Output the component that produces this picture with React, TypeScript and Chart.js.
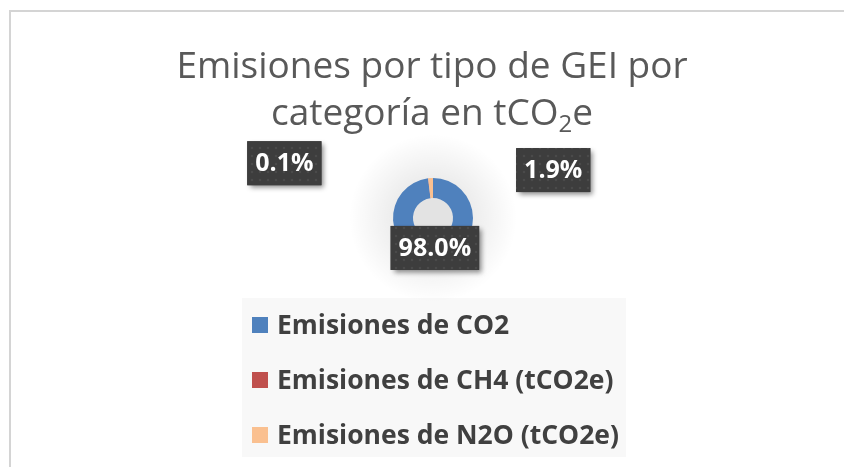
import React, { useEffect, useRef } from "react";
import { Chart, registerables } from "chart.js";

Chart.register(...registerables);

const categories = ["Emisiones de CO2", "Emisiones de CH4 (tCO2e)", "Emisiones de N2O (tCO2e)"];
const shares = [98.0, 0.1, 1.9];
const colors = ["#4f81bd", "#c0504d", "#fac090"];
const titleLine1 = "Emisiones por tipo de GEI por";
const titleLine2 = ["categoría en tCO", "2", "e"];
// label offsets from each slice's centroid (user-dragged data labels)
const labelOffsets: [number, number][] = [[0, 0], [-145, -25], [122, -18]];

const FONT = "'Open Sans', sans-serif";

function makePattern(ctx: CanvasRenderingContext2D) {
  const c = document.createElement("canvas");
  c.width = 8;
  c.height = 8;
  const p = c.getContext("2d")!;
  p.fillStyle = "#3d3d3d";
  p.fillRect(0, 0, 8, 8);
  p.fillStyle = "#4a4a4a";
  p.beginPath();
  p.arc(4, 4, 1.3, 0, Math.PI * 2);
  p.fill();
  return ctx.createPattern(c, "repeat")!;
}

const decorPlugin = {
  id: "decor",
  beforeDraw(chart: any) {
    const ctx = chart.ctx as CanvasRenderingContext2D;
    const W = chart.width;
    const H = chart.height;
    ctx.save();
    ctx.fillStyle = "#ffffff";
    ctx.fillRect(0, 0, W, H);
    // frame
    ctx.strokeStyle = "#d4d4d4";
    ctx.lineWidth = 2;
    ctx.strokeRect(10, 11, W + 20, H + 20);
    // title
    ctx.fillStyle = "#595959";
    ctx.textAlign = "center";
    ctx.textBaseline = "alphabetic";
    const big = `37px ${FONT}`;
    const small = `24px ${FONT}`;
    ctx.font = big;
    ctx.fillText(titleLine1, 432, 78);
    const [a, sub, b] = titleLine2;
    const wa = ctx.measureText(a).width;
    const wb = ctx.measureText(b).width;
    ctx.font = small;
    const ws = ctx.measureText(sub).width;
    const total = wa + ws + wb;
    let x = 432 - total / 2;
    ctx.textAlign = "left";
    ctx.font = big;
    ctx.fillText(a, x, 125);
    x += wa;
    ctx.font = small;
    ctx.fillText(sub, x, 132);
    x += ws;
    ctx.font = big;
    ctx.fillText(b, x, 125);
    // legend
    ctx.fillStyle = "#f8f8f8";
    ctx.fillRect(242, 298, 384, 159);
    const labels = chart.data.labels as string[];
    const bg = chart.data.datasets[0].backgroundColor as string[];
    ctx.font = `bold 26.5px ${FONT}`;
    ctx.textBaseline = "middle";
    labels.forEach((lab, i) => {
      const cy = 325 + i * 55;
      ctx.fillStyle = bg[i];
      ctx.fillRect(252, cy - 8, 16, 16);
      ctx.fillStyle = "#404040";
      ctx.fillText(lab, 277, cy + 1);
    });
    // glow behind doughnut
    const meta = chart.getDatasetMeta(0);
    const arc = meta.data[0];
    if (arc) {
      const { x: cx, y: cy, outerRadius, innerRadius } = arc.getProps(["x", "y", "outerRadius", "innerRadius"], true);
      const g = ctx.createRadialGradient(cx, cy, outerRadius * 0.9, cx, cy, outerRadius * 2.1);
      g.addColorStop(0, "rgba(0,0,0,0.08)");
      g.addColorStop(1, "rgba(0,0,0,0)");
      ctx.fillStyle = g;
      ctx.beginPath();
      ctx.arc(cx, cy, outerRadius * 2.1, 0, Math.PI * 2);
      ctx.fill();
      ctx.fillStyle = "#e3e3e3";
      ctx.beginPath();
      ctx.arc(cx, cy, innerRadius, 0, Math.PI * 2);
      ctx.fill();
    }
    ctx.restore();
  },
  afterDatasetsDraw(chart: any) {
    const ctx = chart.ctx as CanvasRenderingContext2D;
    const meta = chart.getDatasetMeta(0);
    const data = chart.data.datasets[0].data as number[];
    const pattern = makePattern(ctx);
    ctx.save();
    ctx.font = `bold 25px ${FONT}`;
    meta.data.forEach((el: any, i: number) => {
      const pos = el.tooltipPosition(true);
      const [dx, dy] = labelOffsets[i];
      const cx = pos.x + dx;
      const cy = pos.y + dy;
      const txt = data[i].toFixed(1) + "%";
      const tw = ctx.measureText(txt).width;
      const w = tw + 16;
      const h = 44;
      ctx.save();
      ctx.shadowColor = "rgba(0,0,0,0.45)";
      ctx.shadowBlur = 5;
      ctx.shadowOffsetX = 3;
      ctx.shadowOffsetY = 3;
      ctx.fillStyle = "#3d3d3d";
      ctx.fillRect(cx - w / 2, cy - h / 2, w, h);
      ctx.restore();
      ctx.fillStyle = pattern;
      ctx.fillRect(cx - w / 2, cy - h / 2, w, h);
      ctx.fillStyle = "#ffffff";
      ctx.textAlign = "center";
      ctx.textBaseline = "middle";
      ctx.fillText(txt, cx, cy + 1);
    });
    ctx.restore();
  },
};

export default function App() {
  const ref = useRef<HTMLCanvasElement | null>(null);
  useEffect(() => {
    document.body.style.margin = "0";
    const chart = new Chart(ref.current!, {
      type: "doughnut",
      data: {
        labels: categories,
        datasets: [
          {
            data: shares,
            backgroundColor: colors,
            borderWidth: 0,
          },
        ],
      },
      options: {
        animation: false,
        responsive: false,
        cutout: "50%",
        layout: { padding: { left: 393, right: 371, top: 178, bottom: 209 } },
        plugins: {
          legend: { display: false },
          title: { display: false },
          tooltip: { enabled: false },
        },
      },
      plugins: [decorPlugin],
    });
    return () => chart.destroy();
  }, []);
  return (
    <div style={{ width: 844, height: 467, position: "relative", overflow: "hidden" }}>
      <canvas ref={ref} width={844} height={467} style={{ display: "block" }} />
    </div>
  );
}
